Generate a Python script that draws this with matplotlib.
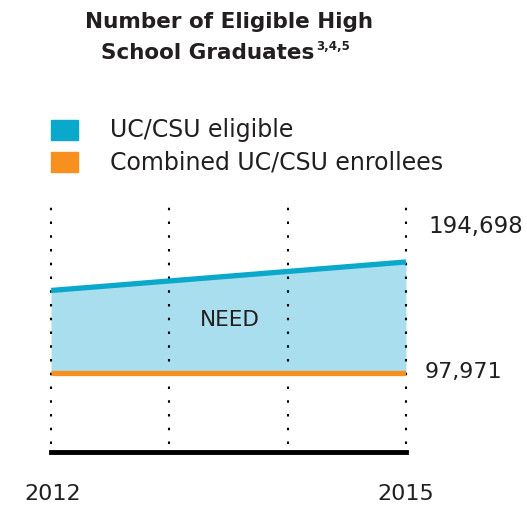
import matplotlib.pyplot as plt
from matplotlib.patches import Rectangle

years = [2012, 2015]
grid_years = [2012, 2013, 2014, 2015]
eligible = [169800, 194698]
enrollees = [97971, 97971]
labels = ["UC/CSU eligible", "Combined UC/CSU enrollees"]

cyan = "#0aa8cb"
fill_c = "#a8deed"
orange = "#f7901e"
txt = "#231f20"

plt.rcParams['font.family'] = ['DejaVu Sans']

W, H = 527, 505
fig = plt.figure(figsize=(W / 100, H / 100), dpi=100)

# axes: x 2012->px 51, 2015->px 406 ; y bottom px 453, top px 206
ax = fig.add_axes([51 / W, 1 - 453 / H, (406 - 51) / W, (453 - 206) / H])
ax.set_xlim(2012, 2015)
ax.set_ylim(27800, 243600)
ax.axis('off')

ax.vlines(grid_years, 36000, 243600, colors='black', linewidth=1.5,
          linestyles=(0, (1.2, 5.4)), clip_on=False)
ax.fill_between(years, enrollees, eligible, color=fill_c, linewidth=0)
ax.plot(years, eligible, color=cyan, linewidth=3.8, solid_capstyle='butt')
ax.plot(years, enrollees, color=orange, linewidth=3.8, solid_capstyle='butt')
ax.axhline(27800 + 1000, color='black', linewidth=3.5, clip_on=False)

ax.text(2013.51, 144000, "NEED", ha='center', va='center', fontsize=15.5, color=txt)

def fx(px):
    return px / W

def fy(py):
    return 1 - py / H

fig.text(fx(229), fy(22), "Number of Eligible High", ha='center', va='center',
         fontsize=15.5, fontweight='bold', color=txt)
t2 = fig.text(fx(101), fy(53), "School Graduates", ha='left', va='center',
              fontsize=15.5, fontweight='bold', color=txt)
fig.canvas.draw()
bb = t2.get_window_extent()
fig.text(bb.x1 / W + 0.003, fy(47), "3,4,5", ha='left', va='center',
         fontsize=8.5, fontweight='bold', color=txt)

for i, (lab, c) in enumerate(zip(labels, [cyan, orange])):
    y0 = 120 + i * 32
    fig.add_artist(Rectangle((fx(51), fy(y0 + 20)), 27 / W, 20 / H,
                             color=c, transform=fig.transFigure))
    fig.text(fx(110), fy(y0 + 10), lab, ha='left', va='center',
             fontsize=17, color=txt)

fig.text(fx(428), fy(227), f"{eligible[-1]:,}", ha='left', va='center', fontsize=16.5, color=txt)
fig.text(fx(425), fy(372), f"{enrollees[-1]:,}", ha='left', va='center', fontsize=16, color=txt)
fig.text(fx(53), fy(494), str(years[0]), ha='center', va='center', fontsize=16, color=txt)
fig.text(fx(406), fy(494), str(years[-1]), ha='center', va='center', fontsize=16, color=txt)

fig.savefig("out.png", dpi=100)
